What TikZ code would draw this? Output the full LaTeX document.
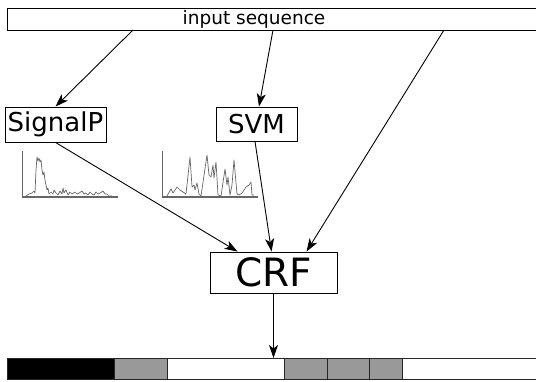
\documentclass[tikz,border=0pt]{standalone}
\usepackage{fontspec}
\setmainfont{DejaVu Sans}
\usetikzlibrary{arrows.meta,calc}

\begin{document}
\begin{tikzpicture}[x=1pt,y=-1pt,line width=0.9pt,
    >={Stealth[length=13pt,width=9pt,inset=3.5pt]},
    predictor/.style={draw,inner sep=0pt,font=\fontsize{26}{30}\selectfont},
    curve/.style={black!60,line width=0.7pt,line join=round}]
  \useasboundingbox (0,0) rectangle (536,381);
  \clip (0,0) rectangle (536,381);

  % sequence box at the top
  \draw (7,8) rectangle (545,30);
  \node[font=\fontsize{18.5}{22}\selectfont] (seq) at (254,19) {input sequence};
  \coordinate (s1) at (133,30);
  \coordinate (s2) at (273,30);
  \coordinate (s3) at (444,30);

  % predictors
  \node[predictor,minimum width=101pt,minimum height=35pt] (signalp) at (55.5,124.5) {SignalP};
  \node[predictor,minimum width=81pt,minimum height=34pt] (svm) at (256.5,124) {SVM};
  \node[draw,inner sep=0pt,minimum width=127pt,minimum height=41pt,
        font=\fontsize{39}{44}\selectfont] (crf) at (273.5,272.5) {CRF};

  \draw[->] (s1) -- (signalp.north);
  \draw[->] (s2) -- ($(svm.north)+(2.5,0)$);
  \draw[->] (s3) -- ($(crf.north west)+(97,0)$);
  \draw[->] (signalp.south) -- ($(crf.north west)+(28,0)$);
  \draw[->] ($(svm.south)+(-1.5,0)$) -- ($(crf.north west)+(62,0)$);

  % small score plots
  \draw[black!60,line width=0.8pt] (22,151) -- (22,197);
  \draw[black!60,line width=1.8pt] (22,197) -- (118,197);
  \draw[curve] (26,196) -- (29,194) -- (32,193) -- (34,191) -- (35,193) -- (36,170)
    -- (37,157) -- (38,161) -- (39,158) -- (40,162) -- (41,160) -- (42,170) -- (43,175)
    -- (44,172) -- (45,180) -- (46,185) -- (47,190) -- (48,188) -- (49,194) -- (51,192)
    -- (53,194) -- (54,190) -- (56,193) -- (58,195) -- (60,191) -- (62,194) -- (63,188)
    -- (64,193) -- (66,190) -- (68,195) -- (70,192) -- (72,194) -- (75,192) -- (77,194)
    -- (79,193) -- (82,191) -- (84,194) -- (86,193) -- (88,195) -- (90,192) -- (92,194)
    -- (94,195) -- (96,192) -- (98,194) -- (100,193) -- (103,191) -- (105,194)
    -- (107,194) -- (109,196) -- (112,196);

  \draw[black!60,line width=0.8pt] (162,151) -- (162,197);
  \draw[black!60,line width=1.8pt] (162,197) -- (258,197);
  \draw[curve] (167,196) -- (171,189) -- (173,193) -- (177,187) -- (180,190) -- (186,194)
    -- (190,157) -- (192,187) -- (194,185) -- (195,190) -- (197,183) -- (199,194)
    -- (201,196) -- (207,155) -- (209,175) -- (211,177) -- (213,165) -- (214,178)
    -- (216,162) -- (218,195) -- (221,196) -- (225,169) -- (227,185) -- (228,177)
    -- (230,195) -- (232,185) -- (234,160) -- (237,194) -- (239,195) -- (242,193)
    -- (246,187) -- (249,185) -- (251,182) -- (252,195) -- (254,195);

  % labelled output sequence
  \foreach \xa/\xb/\shade in {7/114/black, 114/167/black!40, 167/284/white,
      284/327/black!40, 327/369/black!40, 369/402/black!40, 402/545/white}
    \filldraw[fill=\shade,draw=black!85,line width=0.8pt] (\xa,358) rectangle (\xb,379);
  \coordinate (out) at (273.5,358);
  \draw[->] (crf.south) -- (out);
\end{tikzpicture}
\end{document}
